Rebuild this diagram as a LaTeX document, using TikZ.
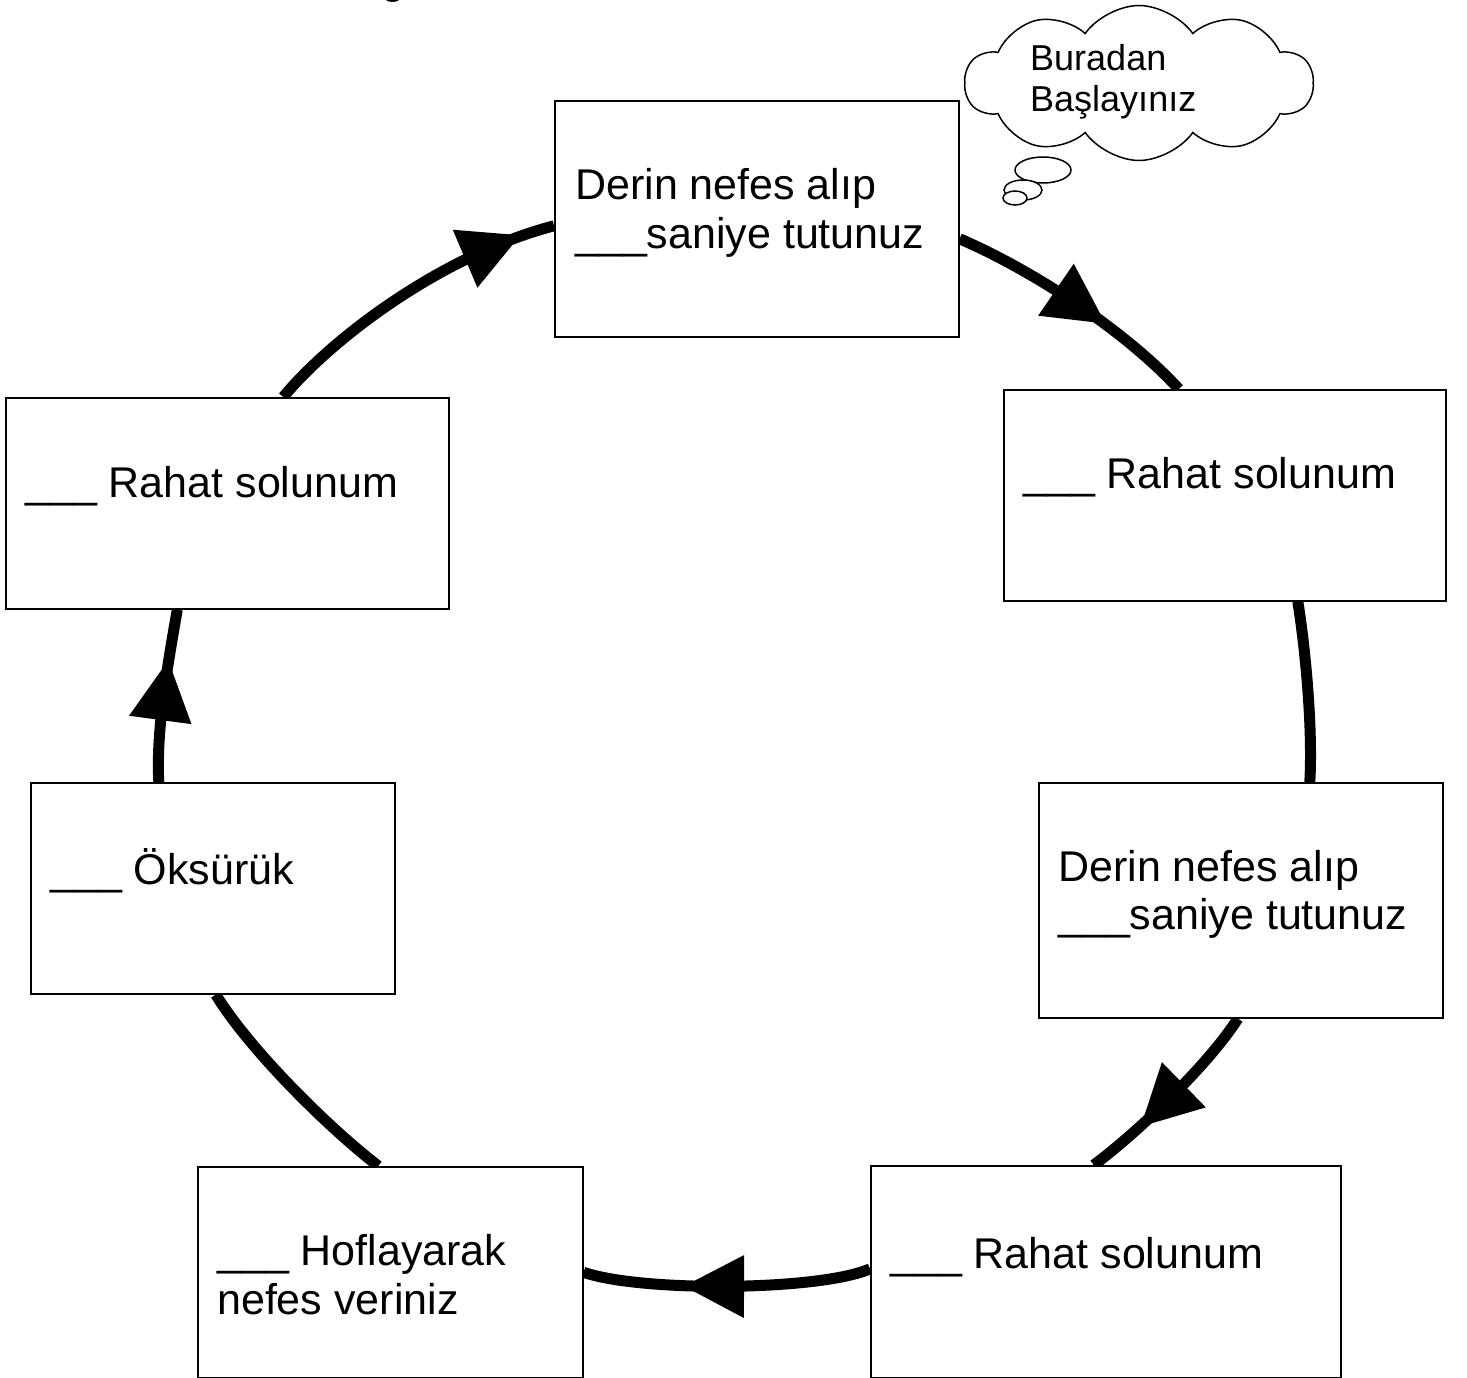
\documentclass[tikz,border=0pt]{standalone}
\usepackage{fontspec}
\setmainfont{Liberation Sans}
\usetikzlibrary{shapes.symbols,shapes.geometric,decorations.markings,calc}
\pgfdeclarelayer{background}
\pgfsetlayers{background,main}
\begin{document}
\begin{tikzpicture}[x=1pt,y=-1pt,
  box/.style={draw, line width=1.6pt, rectangle, inner sep=0pt, anchor=north west, fill=white},
  txt/.style={anchor=base west, inner sep=0pt, font=\fontsize{43}{50}\selectfont},
  ctxt/.style={anchor=base west, inner sep=0pt, font=\fontsize{36}{41}\selectfont},
  conn/.style={line width=11pt},
  midarrow/.style={postaction={decorate}, decoration={markings, mark=at position #1 with {\fill (30pt,0pt) -- (-30pt,31.5pt) -- (-30pt,-31.5pt) -- cycle;}}},
  bubble/.style={draw, ellipse, line width=1.5pt, fill=white, inner sep=0pt}
]
\useasboundingbox (0,0) rectangle (1467,1378);

% cut-off fragment at top
\node[txt] (frag) at (381,-6) {g};

% boxes
\node[box, minimum width=404pt, minimum height=236pt] (b1) at (554,100) {};
\node[box, minimum width=443pt, minimum height=211pt] (b2) at (5,397) {};
\node[box, minimum width=442pt, minimum height=211pt] (b3) at (1003,389) {};
\node[box, minimum width=404pt, minimum height=235pt] (b4) at (1038,782) {};
\node[box, minimum width=470pt, minimum height=212pt] (b5) at (870,1165) {};
\node[box, minimum width=385pt, minimum height=211pt] (b6) at (197,1166) {};
\node[box, minimum width=364pt, minimum height=211pt] (b7) at (30,782) {};

% texts
\node[txt] (t1a) at (575,199) {Derin nefes alıp};
\node[txt] (t1b) at (575,248) {\_\_\_saniye tutunuz};
\node[txt] (t2) at (25,497) {\_\_\_ Rahat solunum};
\node[txt] (t3) at (1023,488) {\_\_\_ Rahat solunum};
\node[txt] (t4a) at (1058,881) {Derin nefes alıp};
\node[txt] (t4b) at (1058,929) {\_\_\_saniye tutunuz};
\node[txt] (t5) at (890,1268) {\_\_\_ Rahat solunum};
\node[txt] (t6a) at (217,1265) {\_\_\_ Hoflayarak};
\node[txt] (t6b) at (217,1314) {nefes veriniz};
\node[txt] (t7) at (50,884) {\_\_\_ Öksürük};

% connectors
\begin{pgfonlayer}{background}
\fill[white] (0,0) rectangle (1467,1378);
\draw[conn, midarrow=0.52] ([shift={(0,20)}]b1.east) .. controls +(70,30) and +(-55,-60) .. ([shift={(-46,0)}]b3.north);
\draw[conn] ([shift={(73,0)}]b3.south) .. controls +(8,50) and +(3,-52) .. ([shift={(69,0)}]b4.north);
\draw[conn, midarrow=0.56] ([shift={(-3,0)}]b4.south) .. controls +(-27,43) and +(47,-35) .. ([shift={(-12,0)}]b5.north);
\draw[conn, midarrow=0.545] ([shift={(0,-3)}]b5.west) .. controls +(-50,22) and +(58,20) .. (b6.east);
\draw[conn] ([shift={(-12,0)}]b6.north) .. controls +(-47,-36) and +(35,57) .. ([shift={(3,0)}]b7.south);
\draw[conn, midarrow=0.53] ([shift={(-54,0)}]b7.north) .. controls +(-3,-52) and +(-9,52) .. ([shift={(-50,0)}]b2.south);
\draw[conn, midarrow=0.8] ([shift={(56,0)}]b2.north) .. controls +(47,-57) and +(-114,30) .. ([shift={(0,7)}]b1.west);
\end{pgfonlayer}

% thought cloud
\node[cloud, draw, line width=1.5pt, cloud puffs=10, cloud puff arc=110, aspect=2.25, minimum width=348pt, minimum height=155pt, inner sep=0pt, fill=white] (cloud) at (1139,83) {};
\node[bubble, minimum width=56pt, minimum height=26pt] (bub1) at (1043,170) {};
\node[bubble, minimum width=38pt, minimum height=20pt] (bub2) at (1023,190) {};
\node[bubble, minimum width=24pt, minimum height=14pt] (bub3) at (1015,198) {};
\node[ctxt] (c1) at (1030,71) {Buradan};
\node[ctxt] (c2) at (1030,112) {Başlayınız};
\end{tikzpicture}
\end{document}
